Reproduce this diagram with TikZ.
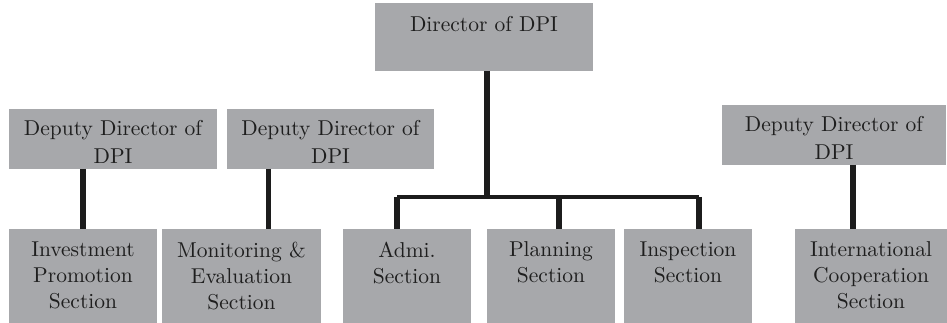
\documentclass[tikz,border=0pt]{standalone}
\usepackage{fontspec}
\setmainfont{lmroman10-regular.otf}
\definecolor{boxgray}{RGB}{167,168,171}
\definecolor{linkblack}{RGB}{28,28,28}
\definecolor{inkblack}{RGB}{30,30,30}
\begin{document}
\begin{tikzpicture}[x=1pt,y=-1pt,
  unit/.style={rectangle, fill=boxgray, draw=none, inner sep=0pt, outer sep=0pt},
  caption/.style={inner sep=0pt, outer sep=0pt, align=center, anchor=north,
    text=inkblack, font=\fontsize{21.5}{26}\selectfont},
  headcaption/.style={caption, font=\fontsize{21.5}{28}\selectfont},
  link/.style={draw=linkblack, line width=5.5pt},
  rail/.style={draw=linkblack, line width=4pt}]
\useasboundingbox (0,0) rectangle (947,323);

% boxes
\node[unit, minimum width=218pt, minimum height=68pt] (dir)  at (484,37)    {};
\node[unit, minimum width=208pt, minimum height=60pt] (dep1) at (113,139)   {};
\node[unit, minimum width=207pt, minimum height=60pt] (dep2) at (330.5,139) {};
\node[unit, minimum width=224pt, minimum height=60pt] (dep3) at (834,135)   {};
\node[unit, minimum width=148pt, minimum height=94pt] (inv)  at (83,276)    {};
\node[unit, minimum width=159pt, minimum height=94pt] (mon)  at (241.5,276) {};
\node[unit, minimum width=128pt, minimum height=94pt] (adm)  at (407,276)   {};
\node[unit, minimum width=128pt, minimum height=94pt] (pln)  at (551,276)   {};
\node[unit, minimum width=128pt, minimum height=94pt] (ins)  at (688,276)   {};
\node[unit, minimum width=152pt, minimum height=94pt] (intl) at (871,276)   {};

% captions
\node[headcaption] (dirT)  at ([yshift=-13pt]dir.north)  {Director of DPI};
\node[headcaption] (dep1T) at ([yshift=-11pt]dep1.north) {Deputy Director of\\DPI};
\node[headcaption] (dep2T) at ([yshift=-11pt]dep2.north) {Deputy Director of\\DPI};
\node[headcaption] (dep3T) at ([yshift=-11pt]dep3.north) {Deputy Director of\\DPI};
\node[caption] (invT)  at ([yshift=-13pt]inv.north)  {Investment\\Promotion\\Section};
\node[caption] (monT)  at ([yshift=-13pt]mon.north)  {Monitoring \&\\Evaluation\\Section};
\node[caption] (admT)  at ([yshift=-13pt]adm.north)  {Admi.\\Section};
\node[caption] (plnT)  at ([yshift=-13pt]pln.north)  {Planning\\Section};
\node[caption] (insT)  at ([yshift=-13pt]ins.north)  {Inspection\\Section};
\node[caption] (intlT) at ([yshift=-13pt]intl.north) {International\\Cooperation\\Section};

% connectors
\coordinate (hub) at (487,197);
\draw[link] ([xshift=3pt]dir.south) -- (hub);
\draw[rail] ([xshift=-10pt]adm.north |- hub) -- ([xshift=11pt]ins.north |- hub);
\draw[link] ([xshift=-10pt]adm.north |- hub) -- ([xshift=-10pt]adm.north);
\draw[link] ([xshift=8pt]pln.north |- hub) -- ([xshift=8pt]pln.north);
\draw[link] ([xshift=11pt]ins.north |- hub) -- ([xshift=11pt]ins.north);
\draw[link] (inv.north |- dep1.south) -- (inv.north);
\draw[link] ([xshift=27pt]mon.north |- dep2.south) -- ([xshift=27pt]mon.north);
\draw[link] ([xshift=-18pt]intl.north |- dep3.south) -- ([xshift=-18pt]intl.north);
\end{tikzpicture}
\end{document}
